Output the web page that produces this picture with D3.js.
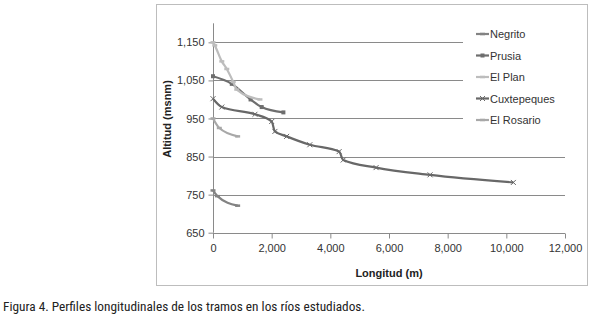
<!DOCTYPE html>
<html>
<head>
<meta charset="utf-8">
<script src="https://cdn.jsdelivr.net/npm/d3@7"></script>
<style>
  body { margin: 0; background: #fff; }
  svg text { font-family: "Liberation Sans", Arial, sans-serif; }
</style>
</head>
<body>
<div id="chart"></div>
<script>
// series (x = longitud m, y = altitud msnm)
const negrito = [[0, 761], [150, 746], [840, 721]];
const prusia = [[0, 1061], [640, 1041], [1280, 1000], [1660, 980], [2400, 966]];
const elPlan = [[0, 1150], [60, 1142], [300, 1100], [470, 1080], [690, 1046], [810, 1026], [1600, 1000]];
const cuxtepeques = [[0, 1002], [300, 980], [1430, 961], [2000, 942], [2110, 916], [2510, 903],
  [3300, 881], [4300, 863], [4440, 841], [5560, 821], [7400, 802], [10240, 782]];
const elRosario = [[0, 950], [215, 925], [840, 903]];

const seriesNames = ["Negrito", "Prusia", "El Plan", "Cuxtepeques", "El Rosario"];
const xTicks = [0, 2000, 4000, 6000, 8000, 10000, 12000];
const yTicks = [650, 750, 850, 950, 1050, 1150];

const series = [
  {name: seriesNames[0], values: negrito, color: "#838383", marker: "dash"},
  {name: seriesNames[1], values: prusia, color: "#6e6e6e", marker: "square"},
  {name: seriesNames[2], values: elPlan, color: "#bdbdbd", marker: "dash"},
  {name: seriesNames[3], values: cuxtepeques, color: "#686868", marker: "cross"},
  {name: seriesNames[4], values: elRosario, color: "#a8a8a8", marker: "dash"}
];

const svg = d3.select("#chart").append("svg")
  .attr("width", 590)
  .attr("height", 316);

// outer chart frame
svg.append("rect")
  .attr("x", 156.5).attr("y", 4.5)
  .attr("width", 431).attr("height", 281)
  .attr("fill", "none")
  .attr("stroke", "#bdbdbd");

const x = d3.scaleLinear().domain([0, 12000]).range([213, 565]);
const y = d3.scaleLinear().domain([650, 1200]).range([232.7, 23.3]);

// gridlines
svg.append("g")
  .selectAll("line")
  .data(yTicks.slice(1))
  .join("line")
  .attr("x1", x(0)).attr("x2", x(12000))
  .attr("y1", d => Math.round(y(d)) + 0.5)
  .attr("y2", d => Math.round(y(d)) + 0.5)
  .attr("stroke", "#8a8a8a");

// axes
const xAxis = svg.append("g")
  .attr("transform", `translate(0,${Math.round(y(650)) + 0.5})`)
  .call(d3.axisBottom(x).tickValues(xTicks).tickSize(5).tickPadding(6)
    .tickFormat(d3.format(",")));

const yAxis = svg.append("g")
  .attr("transform", `translate(${x(0) + 0.5},0)`)
  .call(d3.axisLeft(y).tickValues(yTicks).tickSize(5).tickPadding(4)
    .tickFormat(d3.format(",")));

[xAxis, yAxis].forEach(g => {
  g.select(".domain").attr("stroke", "#8a8a8a");
  g.selectAll(".tick line").attr("stroke", "#8a8a8a");
  g.selectAll(".tick text")
    .attr("fill", "#333")
    .style("font-size", "11px")
    .style("font-family", "'Liberation Sans', Arial, sans-serif");
});
// domain of y axis goes up to 1200 without outer tick
yAxis.select(".domain").attr("d", `M0,${y(1200)}V${y(650)}`);
xAxis.select(".domain").attr("d", `M0,0H${x(12000) - x(0)}`).attr("transform", `translate(${x(0)},0)`);

// axis titles
svg.append("text")
  .attr("x", 389).attr("y", 277)
  .attr("text-anchor", "middle")
  .style("font-size", "11px")
  .style("font-weight", "bold")
  .attr("fill", "#222")
  .text("Longitud (m)");

svg.append("text")
  .attr("transform", `translate(171,119) rotate(-90)`)
  .attr("text-anchor", "middle")
  .style("font-size", "11px")
  .style("font-weight", "bold")
  .attr("fill", "#222")
  .text("Altitud (msnm)");

// lines
const line = d3.line()
  .x(d => x(d[0]))
  .y(d => y(d[1]))
  .curve(d3.curveMonotoneX);

function drawMarker(g, m, color) {
  if (m === "square") {
    g.append("rect").attr("x", -2).attr("y", -2).attr("width", 4).attr("height", 4)
      .attr("fill", color);
  } else if (m === "cross") {
    g.append("path").attr("d", "M-2.5,-2.5L2.5,2.5M-2.5,2.5L2.5,-2.5")
      .attr("stroke", color).attr("stroke-width", 1);
  } else {
    g.append("path").attr("d", "M-2.5,0H2.5").attr("stroke", color).attr("stroke-width", 2.5);
  }
}

series.forEach(s => {
  svg.append("path")
    .datum(s.values)
    .attr("fill", "none")
    .attr("stroke", s.color)
    .attr("stroke-width", 2.2)
    .attr("d", line);

  s.values.forEach(v => {
    const g = svg.append("g").attr("transform", `translate(${x(v[0])},${y(v[1])})`);
    drawMarker(g, s.marker, s.color);
  });
});

// legend (white box covers the gridlines behind it)
const legend = svg.append("g");
legend.append("rect")
  .attr("x", 463).attr("y", 24)
  .attr("width", 110).attr("height", 106)
  .attr("fill", "#fff");
series.forEach((s, i) => {
  const ly = 34 + i * 21.5;
  legend.append("line")
    .attr("x1", 476).attr("x2", 489)
    .attr("y1", ly).attr("y2", ly)
    .attr("stroke", s.color).attr("stroke-width", 2.2);
  const g = legend.append("g").attr("transform", `translate(482.5,${ly})`);
  drawMarker(g, s.marker, s.color);
  legend.append("text")
    .attr("x", 490).attr("y", ly + 4)
    .style("font-size", "11px")
    .attr("fill", "#333")
    .text(s.name);
});

// caption
svg.append("text")
  .attr("x", 3).attr("y", 311)
  .style("font-family", "'Liberation Sans Narrow', 'Roboto Condensed', 'DejaVu Sans Condensed', sans-serif")
  .style("font-size", "13.3px")
  .attr("fill", "#222")
  .text("Figura 4. Perfiles longitudinales de los tramos en los ríos estudiados.");
</script>
</body>
</html>
